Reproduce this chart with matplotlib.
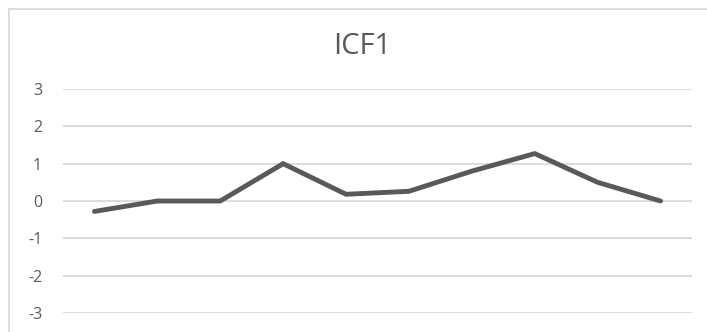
import matplotlib
matplotlib.use("Agg")
import matplotlib.pyplot as plt
from matplotlib.patches import Rectangle

# Series data
categories = list(range(1, 11))
values = [-0.28, 0.0, 0.0, 1.0, 0.18, 0.26, 0.8, 1.27, 0.5, 0.0]
y_ticks = [-3, -2, -1, 0, 1, 2, 3]
title = "ICF1"

W, H = 707, 332
fig = plt.figure(figsize=(W / 100, H / 100), dpi=100)
fig.patch.set_facecolor("white")

# Outer chart border
fig.patches.append(Rectangle((8.5 / W, -0.1), 1.2, 1.1 - 9.5 / H,
                             transform=fig.transFigure, fill=False,
                             edgecolor="#d9d9d9", linewidth=1.3, zorder=0))

ax = fig.add_axes([63 / W, 19 / H, 629 / W, 224 / H])
x = list(range(len(categories)))
ax.plot(x, values, color="#595959", linewidth=3.5, solid_capstyle="round",
        solid_joinstyle="miter", zorder=3)

ax.set_xlim(-0.5, len(categories) - 0.5)
ax.set_ylim(-3, 3)
ax.set_yticks(y_ticks)
ax.set_yticklabels([str(t) for t in y_ticks])
ax.set_xticks([])
ax.grid(axis="y", color="#d9d9d9", linewidth=1.3)
ax.set_axisbelow(True)
for s in ax.spines.values():
    s.set_visible(False)
ax.tick_params(axis="y", length=0, pad=15, labelsize=11.5, labelcolor="#595959")
for lbl in ax.get_yticklabels():
    lbl.set_fontfamily("Open Sans")
for line in ax.get_lines():
    line.set_clip_on(False)

fig.text(362 / W, (H - 46) / H, title, ha="center", va="center",
         fontsize=21, color="#595959", family="Open Sans")

fig.savefig("out.png", dpi=100)
